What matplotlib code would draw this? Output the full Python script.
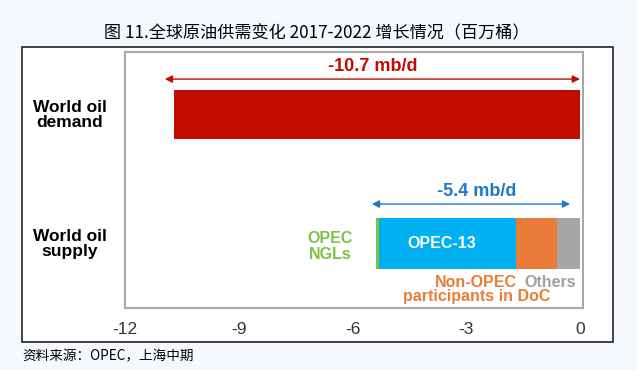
import matplotlib
matplotlib.use("Agg")
import matplotlib.pyplot as plt
from matplotlib.patches import Rectangle

plt.rcParams['font.family'] = ['Liberation Sans', 'Noto Sans CJK SC', 'DejaVu Sans']

# data (mb/d change 2017-2022)
demand = -10.7
supply_parts = ["OPEC NGLs", "OPEC-13", "Non-OPEC participants in DoC", "Others"]
supply_vals = [-0.07, -3.6, -1.1, -0.6]
supply_colors = ["#7DC242", "#00B0F0", "#E97C3A", "#A6A6A6"]
xticks = [-12, -9, -6, -3, 0]
demand_label = "-10.7 mb/d"
supply_label = "-5.4 mb/d"

W, H = 637, 370
fig = plt.figure(figsize=(W / 100, H / 100), dpi=100, facecolor="#F5F9FD")

# outer black box with white fill (background axes)
bg = fig.add_axes([0, 0, 1, 1], zorder=-5)
bg.set_xlim(0, W)
bg.set_ylim(H, 0)
bg.axis("off")
bg.add_patch(Rectangle((22, 47), 613 - 22, 342 - 47, facecolor="white",
                       edgecolor="#222222", linewidth=1.2))

ax = fig.add_axes([125 / W, (H - 308) / H, (583 - 125) / W, (308 - 52) / H])
ax.set_facecolor("white")
ax.set_xlim(-12, 0.08)
ax.set_ylim(-0.5, 1.485)
for s in ax.spines.values():
    s.set_color("#A8A8A8")
    s.set_linewidth(1.5)

# demand bar
ax.barh(1, demand, height=0.38, color="#C00D00", left=0)

# supply stacked bar (from 0 going left)
left = 0
for val, col in zip(reversed(supply_vals), reversed(supply_colors)):
    ax.barh(0, val, height=0.4, left=left, color=col)
    left += val

# arrows
ax.annotate("", xy=(demand - 0.25, 1.275), xytext=(0, 1.275),
            arrowprops=dict(arrowstyle="<|-|>", color="#C00D00", lw=1.0,
                            mutation_scale=11, shrinkA=0, shrinkB=0))
ax.text(-5.46, 1.37, demand_label, color="#C00D00", fontsize=13,
        fontweight="bold", ha="center", va="center")
ax.annotate("", xy=(-5.49, 0.306), xytext=(-0.26, 0.306),
            arrowprops=dict(arrowstyle="<|-|>", color="#1F78C8", lw=1.0,
                            mutation_scale=11, shrinkA=0, shrinkB=0))
ax.text(-2.72, 0.407, supply_label, color="#1F78C8", fontsize=13,
        fontweight="bold", ha="center", va="center")

# segment labels
ax.text(-3.64, 0.0, "OPEC-13", color="white", fontsize=11.5, fontweight="bold",
        ha="center", va="center")
ax.text(-6.6, -0.023, "OPEC\nNGLs", color="#7DC242", fontsize=11.5, fontweight="bold",
        ha="center", va="center", linespacing=1.05)
ax.text(-2.74, -0.30, "Non-OPEC", color="#E97C3A", fontsize=11.5,
        fontweight="bold", ha="center", va="center")
ax.text(-2.72, -0.41, "participants in DoC", color="#E97C3A", fontsize=11.5,
        fontweight="bold", ha="center", va="center")
ax.text(-0.79, -0.30, "Others", color="#A0A0A0", fontsize=11.5, fontweight="bold",
        ha="center", va="center")

ax.set_xticks(xticks)
ax.set_xticklabels([str(t) for t in xticks], fontsize=12.5, color="#333333")
ax.tick_params(axis="x", length=0, pad=10)
ax.set_yticks([])

# category labels
fig.text(70 / W, (H - 115) / H, "World oil\ndemand", fontsize=12.5, fontweight="bold",
         ha="center", va="center", linespacing=1.0)
fig.text(70 / W, (H - 244) / H, "World oil\nsupply", fontsize=12.5, fontweight="bold",
         ha="center", va="center", linespacing=1.0)

fig.text(317 / W, (H - 33) / H, "图 11.全球原油供需变化 2017-2022 增长情况（百万桶）",
         fontsize=12.3, ha="center", va="center", family=['Noto Sans CJK SC', 'DejaVu Sans'])
fig.text(22 / W, (H - 356) / H, "资料来源：OPEC，上海中期", fontsize=9.8,
         ha="left", va="center", family=['Noto Sans CJK SC', 'DejaVu Sans'])

fig.savefig("out.png", dpi=100, facecolor=fig.get_facecolor())
